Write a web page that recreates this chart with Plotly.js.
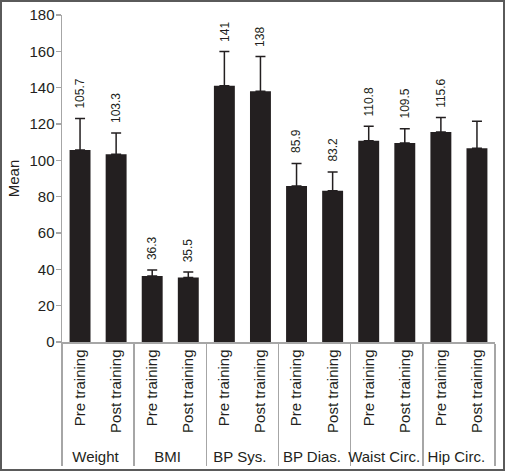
<!DOCTYPE html>
<html>
<head>
<meta charset="utf-8">
<script src="https://cdn.plot.ly/plotly-3.0.1.min.js"></script>
<style>
html,body{margin:0;padding:0;background:#fff;}
#wrap{width:505px;height:471px;box-sizing:border-box;border:2px solid #5a5a5a;position:relative;overflow:hidden;}
#chart{position:absolute;left:-2px;top:-2px;width:505px;height:471px;}
</style>
</head>
<body>
<div id="wrap"><div id="chart"></div></div>
<script>
const groups = ["Weight","Weight","BMI","BMI","BP Sys.","BP Sys.","BP Dias.","BP Dias.","Waist Circ.","Waist Circ.","Hip Circ.","Hip Circ."];
const phases = ["Pre training","Post training","Pre training","Post training","Pre training","Post training","Pre training","Post training","Pre training","Post training","Pre training","Post training"];
const means = [105.7, 103.3, 36.3, 35.5, 141, 138, 85.9, 83.2, 110.8, 109.5, 115.6, 106.7];
const errors = [17.3, 11.8, 3.4, 3.0, 18.9, 19.2, 12.4, 10.4, 7.9, 7.9, 8.0, 14.8];
const valueLabels = ["105.7","103.3","36.3","35.5","141","138","85.9","83.2","110.8","109.5","115.6",""];
const yTicks = [0,20,40,60,80,100,120,140,160,180];

const FONT = "Liberation Sans, Arial, sans-serif";
const INK = "#231f20";
const GRID = "#a6a6a6";
const trace = {
  type: "bar",
  x: [groups, phases],
  y: means,
  marker: {color: INK, line: {width: 0}},
  error_y: {type: "data", array: errors, arrayminus: means.map(()=>0), symmetric: false, color: INK, thickness: 1.5, width: 5},
  hoverinfo: "none"
};
const annotations = means.map((m, i) => ({
  x: i,
  xref: "x", yref: "y",
  y: m + errors[i],
  text: valueLabels[i],
  showarrow: false,
  textangle: -90,
  yanchor: "bottom",
  xanchor: "center",
  yshift: 8,
  font: {family: FONT, size: 12, color: INK}
}));
const layout = {
  width: 505, height: 471,
  margin: {l: 62, r: 10, t: 15, b: 129},
  paper_bgcolor: "rgba(0,0,0,0)",
  plot_bgcolor: "#fff",
  showlegend: false,
  bargap: 0.42,
  font: {family: FONT, size: 15, color: INK},
  xaxis: {
    type: "multicategory",
    tickangle: -90,
    showline: true, linecolor: GRID, linewidth: 1.5,
    ticks: "", showgrid: false,
    showdividers: true, dividercolor: GRID, dividerwidth: 1.5,
    tickfont: {family: FONT, size: 15, color: INK}
  },
  yaxis: {
    range: [0, 180],
    tickvals: yTicks,
    ticktext: yTicks.map(String),
    showline: true, linecolor: GRID, linewidth: 1.5,
    ticks: "outside", ticklen: 5, tickcolor: GRID, tickwidth: 1.5,
    ticklabelstandoff: -2,
    showgrid: false, zeroline: false,
    tickfont: {family: FONT, size: 15, color: INK},
    title: {text: "Mean", font: {family: FONT, size: 15, color: INK}, standoff: 6}
  },
  annotations: annotations
};
Plotly.newPlot("chart", [trace], layout, {staticPlot: true});
</script>
</body>
</html>
